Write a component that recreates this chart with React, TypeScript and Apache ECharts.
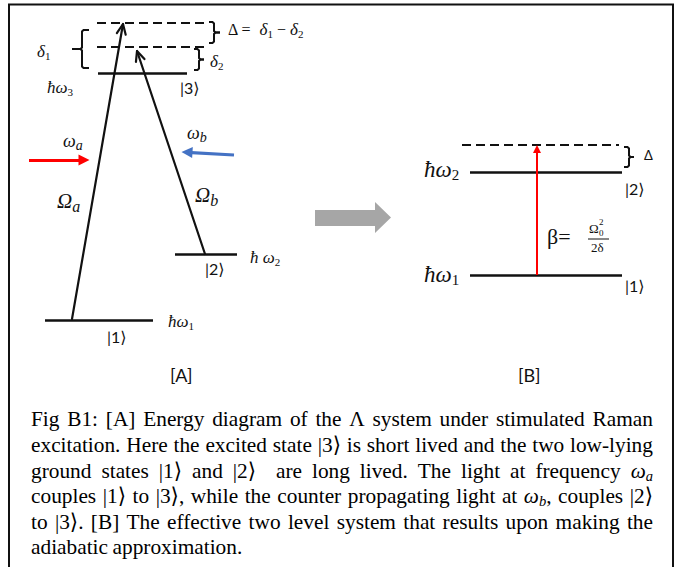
import React, { useEffect, useRef } from 'react';
import * as echarts from 'echarts';

const WIDTH = 689;
const HEIGHT = 567;

// ---------- diagram data (figure pixel units) ----------
// energy levels [x1, x2, y]
const levelsA = [
  [98, 187, 73],
  [175, 237, 254],
  [45, 153, 320],
];
const virtualLevelsA = [
  [97, 206, 23],
  [97, 206, 47],
];
const levelsB = [
  [470, 622, 172],
  [470, 622, 275],
];
const virtualLevelsB = [[462, 619, 145]];
// coupling arrows [x1, y1, x2(tip), y2(tip)]
const couplingArrows = [
  [72, 319, 123, 24],
  [205, 254, 137, 51],
];
const beamRed = [29, 160, 89, 160];
const beamBlue = [234, 155, 182, 152];
const betaArrow = [537, 275, 537, 145];
// braces [xOpen, xSpine, xTip, y1, y2]
const braces = [
  [89, 82, 72, 30, 68],
  [209, 214, 220, 22, 43],
  [194, 199, 204, 49, 70],
  [624, 629, 634, 147, 167],
];
const bigArrow = [
  [315, 210], [375, 210], [375, 202], [391, 217.5], [375, 233], [375, 226], [315, 226],
];

const captionLines = [
  'Fig B1: [A] Energy diagram of the \u039B system under stimulated Raman',
  'excitation. Here the excited state |3\u27E9 is short lived and the two low-lying',
  'ground states |1\u27E9 and |2\u27E9  are long lived. The light at frequency \u03C9_a',
  'couples |1\u27E9 to |3\u27E9, while the counter propagating light at \u03C9_b, couples |2\u27E9',
  'to |3\u27E9. [B] The effective two level system that results upon making the',
  'adiabatic approximation.',
];
const captionY = [419, 445, 471, 496, 522, 547];

const SERIF = "'Liberation Serif', 'DejaVu Serif', serif";
const SANS = "Lato, 'Open Sans', 'DejaVu Sans', sans-serif";

type Run = { t: string; size: number; italic?: boolean; fam?: string; dy?: number };

const mathLabels: { x: number; y: number; runs: Run[] }[] = [
  { x: 37, y: 51, runs: [{ t: '\u03B4', size: 17, italic: true }, { t: '1', size: 11, dy: 5 }] },
  { x: 47, y: 87, runs: [{ t: '\u0127\u03C9', size: 17, italic: true }, { t: '3', size: 11, dy: 5 }] },
  {
    x: 228, y: 29,
    runs: [
      { t: '\u0394 = ', size: 16 },
      { t: ' \u03B4', size: 17, italic: true },
      { t: '1', size: 11, dy: 5 },
      { t: ' \u2212 ', size: 16 },
      { t: '\u03B4', size: 17, italic: true },
      { t: '2', size: 11, dy: 5 },
    ],
  },
  { x: 210, y: 61, runs: [{ t: '\u03B4', size: 17, italic: true }, { t: '2', size: 11, dy: 5 }] },
  { x: 63, y: 141, runs: [{ t: '\u03C9', size: 18, italic: true }, { t: 'a', size: 14, italic: true, dy: 4 }] },
  { x: 187, y: 133, runs: [{ t: '\u03C9', size: 18, italic: true }, { t: 'b', size: 14, italic: true, dy: 4 }] },
  { x: 57, y: 201, runs: [{ t: '\u03A9', size: 21, italic: true }, { t: 'a', size: 16, italic: true, dy: 5 }] },
  { x: 195, y: 195, runs: [{ t: '\u03A9', size: 21, italic: true }, { t: 'b', size: 16, italic: true, dy: 5 }] },
  { x: 250, y: 257, runs: [{ t: '\u0127 \u03C9', size: 17, italic: true }, { t: '2', size: 11, dy: 5 }] },
  { x: 168, y: 321, runs: [{ t: '\u0127\u03C9', size: 17, italic: true }, { t: '1', size: 11, dy: 5 }] },
  { x: 424, y: 169, runs: [{ t: '\u0127\u03C9', size: 23, italic: true }, { t: '2', size: 15, dy: 6 }] },
  { x: 424, y: 274, runs: [{ t: '\u0127\u03C9', size: 23, italic: true }, { t: '1', size: 15, dy: 6 }] },
  { x: 547, y: 236, runs: [{ t: '\u03B2= ', size: 22 }] },
];

const plainLabels: { x: number; y: number; t: string; size: number }[] = [
  { x: 180, y: 87, t: '|3\u27E9', size: 16 },
  { x: 205, y: 268, t: '|2\u27E9', size: 16 },
  { x: 107, y: 336, t: '|1\u27E9', size: 16 },
  { x: 170, y: 375, t: '[A]', size: 18 },
  { x: 625, y: 188, t: '|2\u27E9', size: 16 },
  { x: 625, y: 285, t: '|1\u27E9', size: 16 },
  { x: 644, y: 155, t: '\u0394', size: 13 },
  { x: 518, y: 375, t: '[B]', size: 18 },
];

// ---------- helpers ----------
let ctx: CanvasRenderingContext2D | null = null;
function fontCss(r: Run) {
  return `${r.italic ? 'italic ' : ''}${r.size}px ${r.fam || SERIF}`;
}
function measure(r: Run) {
  if (!ctx) ctx = document.createElement('canvas').getContext('2d');
  ctx!.font = fontCss(r);
  return ctx!.measureText(r.t).width;
}
function textEl(x: number, y: number, r: Run, sx = 1, color = '#111') {
  return {
    type: 'text',
    x,
    y: y + (r.dy || 0),
    scaleX: sx,
    silent: true,
    style: {
      text: r.t,
      fontSize: r.size,
      fontFamily: r.fam || SERIF,
      fontStyle: r.italic ? 'italic' : 'normal',
      fill: color,
      align: 'left',
      verticalAlign: 'middle',
    },
  };
}
function layoutRuns(x: number, y: number, runs: Run[], sx = 1, color = '#111') {
  const els: any[] = [];
  let cx = x;
  for (const r of runs) {
    els.push(textEl(cx, y, r, sx, color));
    cx += measure(r) * sx;
  }
  return els;
}
function bracePts(xOpen: number, xSpine: number, xTip: number, y1: number, y2: number) {
  const s = Math.sign(xTip - xSpine);
  const ym = (y1 + y2) / 2;
  return [
    [[xOpen, y1], [xSpine - s * 1.5, y1], [xSpine, y1 + 1.5], [xSpine, ym - 1.5], [xSpine + s * 1.5, ym], [xTip, ym]],
    [[xTip, ym], [xSpine + s * 1.5, ym], [xSpine, ym + 1.5], [xSpine, y2 - 1.5], [xSpine - s * 1.5, y2], [xOpen, y2]],
  ];
}
function vHead(a: number[], len = 11, ang = 0.42) {
  const [x1, y1, x2, y2] = a;
  const L = Math.hypot(x2 - x1, y2 - y1);
  const bx = (x1 - x2) / L, by = (y1 - y2) / L;
  const rot = (t: number) => [x2 + len * (bx * Math.cos(t) - by * Math.sin(t)), y2 + len * (bx * Math.sin(t) + by * Math.cos(t))];
  return [rot(ang), [x2, y2], rot(-ang)];
}
function shortened(a: number[], d: number) {
  const [x1, y1, x2, y2] = a;
  const L = Math.hypot(x2 - x1, y2 - y1);
  return [[x1, y1], [x2 - ((x2 - x1) / L) * d, y2 - ((y2 - y1) / L) * d]];
}
const TRI = 'path://M5,0 L10,12 L0,12 Z';

const CAP_SIZE = 22;
function captionRuns(token: string): Run[] {
  const size = CAP_SIZE;
  const m = token.match(/^(.*?)\u03C9_(\w)(.*)$/);
  if (!m) return [{ t: token, size }];
  const out: Run[] = [];
  if (m[1]) out.push({ t: m[1], size });
  out.push({ t: '\u03C9', size, italic: true });
  out.push({ t: m[2], size: 15, italic: true, dy: 5 });
  if (m[3]) out.push({ t: m[3], size });
  return out;
}

function buildCaption() {
  const left = 31, right = 653, W = right - left;
  const lines = captionLines.map((l) => l.split(' ').map((tok) => {
    const runs = captionRuns(tok);
    const w = runs.reduce((s, r) => s + measure(r), 0);
    return { runs, w };
  }));
  const minGap = 3.5;
  let s = 0.97;
  lines.forEach((toks, i) => {
    if (i === lines.length - 1) return;
    const sum = toks.reduce((a, t) => a + t.w, 0);
    const cand = (W - (toks.length - 1) * minGap) / sum;
    s = Math.min(s, cand);
  });
  const els: any[] = [];
  lines.forEach((toks, i) => {
    const sum = toks.reduce((a, t) => a + t.w, 0) * s;
    const gap = i === lines.length - 1 ? 4.5 : (W - sum) / (toks.length - 1);
    let cx = left;
    toks.forEach((tk) => {
      els.push(...layoutRuns(cx, captionY[i], tk.runs, s, '#000'));
      cx += tk.w * s + gap;
    });
  });
  return els;
}

function buildOption() {
  const seg = (l: number[]) => ({ coords: [[l[0], l[2]], [l[1], l[2]]] });
  const graphics: any[] = [];

  // frame
  const frame = { stroke: '#111', lineWidth: 2 };
  graphics.push({ type: 'line', silent: true, shape: { x1: 8, y1: 4.5, x2: 674, y2: 4.5 }, style: frame });
  graphics.push({ type: 'line', silent: true, shape: { x1: 9, y1: 4, x2: 9, y2: HEIGHT }, style: frame });
  graphics.push({ type: 'line', silent: true, shape: { x1: 673, y1: 4, x2: 673, y2: HEIGHT }, style: frame });

  // braces
  braces.forEach((b) => {
    bracePts(b[0], b[1], b[2], b[3], b[4]).forEach((pts) =>
      graphics.push({ type: 'polyline', silent: true, shape: { points: pts }, style: { stroke: '#111', lineWidth: 2, fill: null } })
    );
  });

  // big gray arrow
  graphics.push({ type: 'polygon', silent: true, shape: { points: bigArrow }, style: { fill: '#A6A6A6' } });

  // math labels
  mathLabels.forEach((m) => graphics.push(...layoutRuns(m.x, m.y, m.runs)));
  plainLabels.forEach((p) => graphics.push(textEl(p.x, p.y, { t: p.t, size: p.size, fam: SANS })));

  // fraction Omega_0^2 / 2 delta
  graphics.push(textEl(589, 228, { t: '\u03A9', size: 13 }));
  graphics.push(textEl(599, 222, { t: '2', size: 9 }));
  graphics.push(textEl(599, 233.2, { t: '0', size: 9 }));
  graphics.push({ type: 'line', silent: true, shape: { x1: 588, y1: 239, x2: 609, y2: 239 }, style: { stroke: '#111', lineWidth: 1 } });
  graphics.push(textEl(591, 247.5, { t: '2\u03B4', size: 13 }));

  // caption
  graphics.push(...buildCaption());

  const series: any[] = [
    {
      type: 'lines', coordinateSystem: 'cartesian2d', silent: true, symbol: 'none',
      lineStyle: { color: '#111', width: 2.5, opacity: 1 },
      data: [...levelsA, ...levelsB].map(seg),
    },
    {
      type: 'lines', coordinateSystem: 'cartesian2d', silent: true, symbol: 'none',
      lineStyle: { color: '#111', width: 2, type: [9, 5], opacity: 1 },
      data: [...virtualLevelsA, ...virtualLevelsB].map(seg),
    },
    {
      type: 'lines', coordinateSystem: 'cartesian2d', silent: true, symbol: 'none', polyline: true,
      lineStyle: { color: '#111', width: 2.2, opacity: 1, cap: 'round', join: 'round' },
      data: [
        ...couplingArrows.map((a) => ({ coords: [[a[0], a[1]], [a[2], a[3]]] })),
        ...couplingArrows.map((a) => ({ coords: vHead(a) })),
      ],
    },
    {
      type: 'lines', coordinateSystem: 'cartesian2d', silent: true,
      symbol: ['none', TRI], symbolSize: 11,
      lineStyle: { color: '#FF0000', width: 3.2, opacity: 1 },
      data: [{ coords: shortened(beamRed, 5) }],
    },
    {
      type: 'lines', coordinateSystem: 'cartesian2d', silent: true,
      symbol: ['none', TRI], symbolSize: 11,
      lineStyle: { color: '#4472C4', width: 3.2, opacity: 1 },
      data: [{ coords: shortened(beamBlue, 5) }],
    },
    {
      type: 'lines', coordinateSystem: 'cartesian2d', silent: true,
      symbol: ['none', TRI], symbolSize: 8,
      lineStyle: { color: '#FF0000', width: 2, opacity: 1 },
      data: [{ coords: shortened(betaArrow, 4) }],
    },
  ];

  return {
    animation: false,
    backgroundColor: '#fff',
    grid: { left: 0, right: 0, top: 0, bottom: 0 },
    xAxis: { type: 'value', min: 0, max: WIDTH, show: false },
    yAxis: { type: 'value', min: 0, max: HEIGHT, inverse: true, show: false },
    series,
    graphic: { elements: graphics },
  };
}

export default function App() {
  const ref = useRef<HTMLDivElement>(null);
  useEffect(() => {
    if (!ref.current) return;
    const chart = echarts.init(ref.current, undefined, { renderer: 'svg', width: WIDTH, height: HEIGHT });
    chart.setOption(buildOption() as any);
    return () => chart.dispose();
  }, []);
  return (
    <div
      ref={ref}
      style={{ position: 'absolute', left: 0, top: 0, width: WIDTH, height: HEIGHT, background: '#fff' }}
    />
  );
}
